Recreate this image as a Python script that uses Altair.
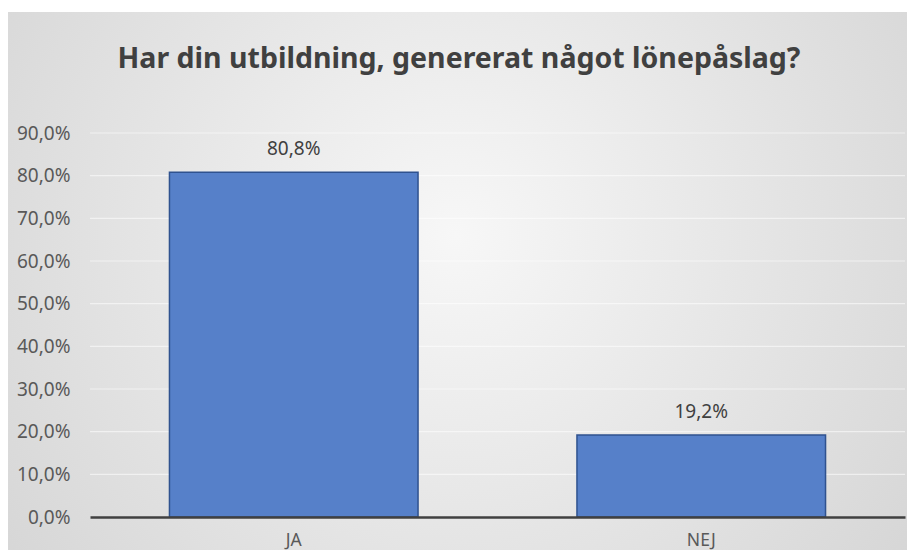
import altair as alt
import pandas as pd

categories = ["JA", "NEJ"]
values = [80.8, 19.2]
y_ticks = [0, 10, 20, 30, 40, 50, 60, 70, 80, 90]
title_text = "Har din utbildning, genererat något lönepåslag?"

df = pd.DataFrame({"cat": categories, "value": values})
grid_df = pd.DataFrame({"tick": y_ticks[1:]})

W, H = 815, 384
PAD = {"left": 82, "top": 125, "right": 2, "bottom": 33}

yscale = alt.Scale(domain=[0, 90], nice=False)

x_enc = alt.X("cat:N", sort=categories, title=None,
              scale=alt.Scale(paddingInner=0.39, paddingOuter=0.195),
              axis=alt.Axis(labelAngle=0, labelFontSize=17.5, labelColor="#595959",
                            labelFont="Noto Sans", ticks=False, domain=True,
                            domainColor="#404040", domainWidth=2.5, labelPadding=14,
                            grid=False, zindex=2))
y_enc = alt.Y("value:Q", title=None, scale=yscale,
              axis=alt.Axis(values=y_ticks, labelFontSize=19, labelColor="#595959",
                            labelFont="Noto Sans", ticks=False, domain=False,
                            labelPadding=20, grid=False, zindex=2,
                            labelExpr="replace(format(datum.value, '.1f'), '.', ',') + '%'"))

bg = alt.Chart(df).mark_rect(
    color=alt.Gradient(gradient="radial", x1=0.5, y1=0.45, x2=0.5, y2=0.45, r1=0.0, r2=0.75,
                       stops=[alt.GradientStop(offset=0, color="#f7f7f7"),
                              alt.GradientStop(offset=1, color="#cfcfcf")])
).encode(x=alt.value(-85), x2=alt.value(W + 2), y=alt.value(-121), y2=alt.value(H + 33))

grid = alt.Chart(grid_df).mark_rule(color="#ffffff", opacity=0.55, strokeWidth=1.2).encode(
    y=alt.Y("tick:Q", scale=yscale), x=alt.value(0), x2=alt.value(W))

bars = alt.Chart(df).mark_bar(color="#5680c9", stroke="#2f528f", strokeWidth=1.5).encode(
    x=x_enc, y=y_enc)

labels = alt.Chart(df).transform_calculate(
    lbl="replace(format(datum.value, '.1f'), '.', ',') + '%'"
).mark_text(baseline="bottom", dy=-13, fontSize=19, color="#404040", font="Noto Sans").encode(
    x=alt.X("cat:N", sort=categories), y=alt.Y("value:Q"), text="lbl:N")

title = alt.Chart(pd.DataFrame({"t": [title_text]})).mark_text(
    fontSize=28.5, font="Noto Sans", fontWeight="bold", color="#404040",
    align="center", baseline="alphabetic"
).encode(x=alt.value(369), y=alt.value(-65), text="t:N")

chart = alt.layer(bg, grid, bars, labels, title).properties(
    width=W, height=H, padding=PAD, autosize=alt.AutoSizeParams(type="none")
).configure_view(stroke=None).configure(background="#ffffff")

chart.save("out.html", embed_options={"renderer": "svg", "actions": False})
